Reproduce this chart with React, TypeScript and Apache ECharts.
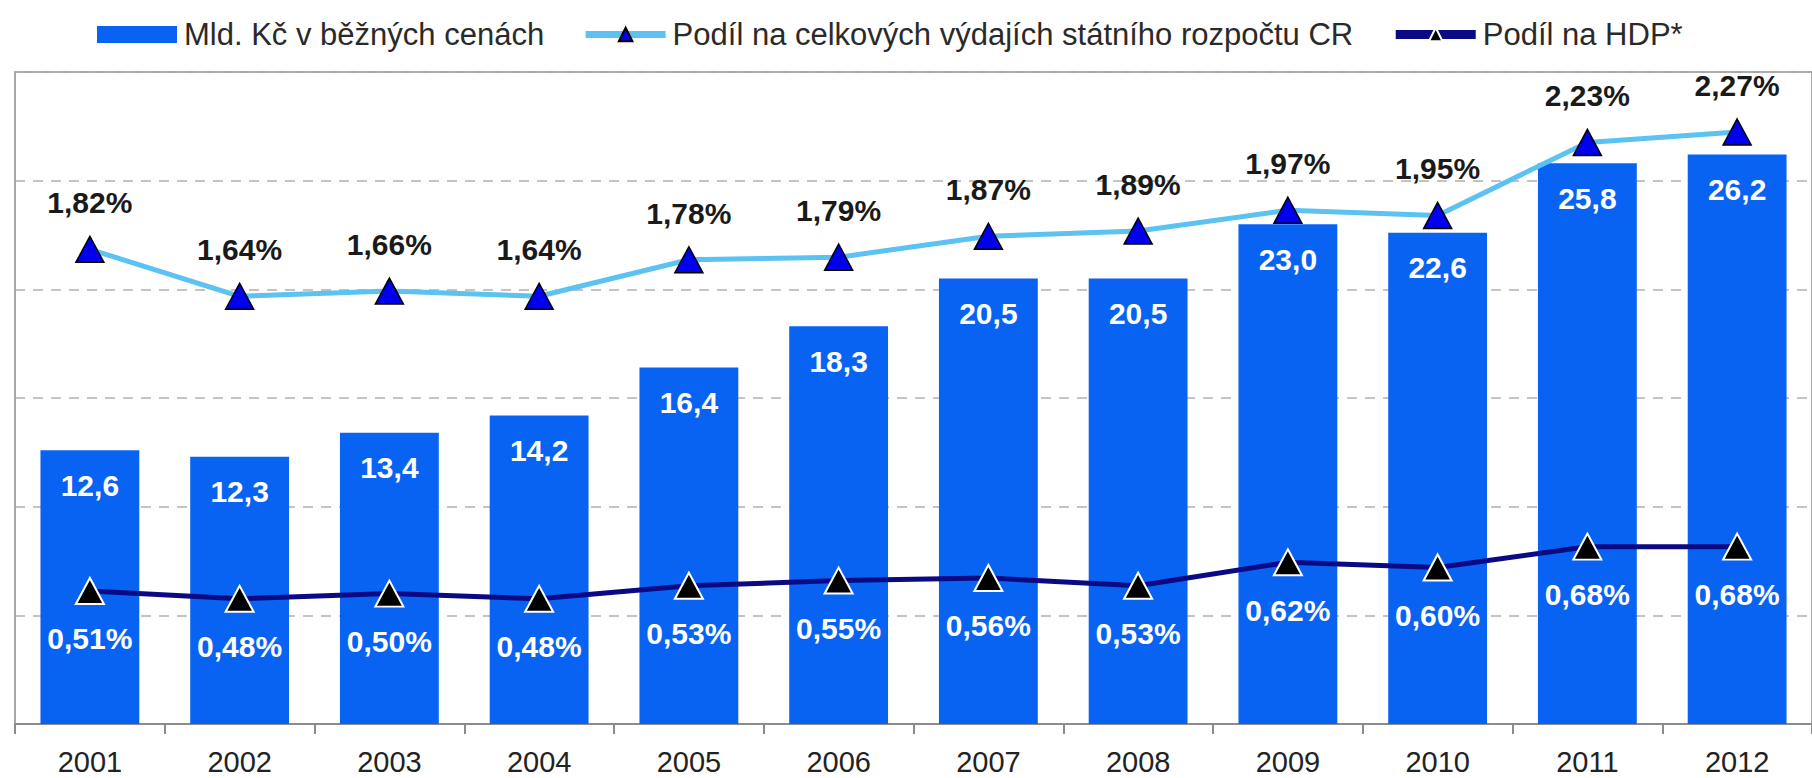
import React, { useEffect, useRef } from "react";
import * as echarts from "echarts";

const years = ["2001", "2002", "2003", "2004", "2005", "2006", "2007", "2008", "2009", "2010", "2011", "2012"];
const billionsCZK = [12.6, 12.3, 13.4, 14.2, 16.4, 18.3, 20.5, 20.5, 23.0, 22.6, 25.8, 26.2];
const shareBudget = [1.82, 1.64, 1.66, 1.64, 1.78, 1.79, 1.87, 1.89, 1.97, 1.95, 2.23, 2.27];
const shareGDP = [0.51, 0.48, 0.5, 0.48, 0.53, 0.55, 0.56, 0.53, 0.62, 0.6, 0.68, 0.68];

const seriesNames = [
  "Mld. Kč v běžných cenách",
  "Podíl na celkových výdajích státního rozpočtu CR",
  "Podíl na HDP*",
];

const FONT = "'Liberation Sans', Arial, sans-serif";

export default function App() {
  const ref = useRef<HTMLDivElement>(null);
  useEffect(() => {
    if (!ref.current) return;
    const chart = echarts.init(ref.current, null, { renderer: "svg" });
    const fmt1 = (v: number) => v.toFixed(1).replace(".", ",");
    const fmtPct = (v: number) => v.toFixed(2).replace(".", ",") + "%";
    chart.setOption({
      animation: false,
      backgroundColor: "#ffffff",
      textStyle: { fontFamily: FONT },
      legend: {
        left: 92,
        top: 14,
        itemWidth: 80,
        itemHeight: 17,
        itemGap: 38,
        textStyle: { fontSize: 31, color: "#2a2a2a", fontFamily: FONT, padding: [0, 0, 0, 2] },
        data: [
          { name: seriesNames[0], icon: "rect" },
          { name: seriesNames[1], lineStyle: { width: 7 } },
          { name: seriesNames[2], lineStyle: { width: 9 } },
        ],
      },
      grid: {
        left: 15,
        top: 72,
        bottom: 54,
        width: 1811,
        show: true,
        borderColor: "#a8a8a8",
        borderWidth: 2,
      },
      xAxis: {
        type: "category",
        data: years,
        axisLine: { show: true, lineStyle: { color: "#8c8c8c", width: 2 } },
        axisTick: { show: true, length: 10, lineStyle: { color: "#8c8c8c", width: 2 } },
        axisLabel: { fontSize: 29, color: "#222", margin: 23, fontFamily: FONT },
      },
      yAxis: [
        {
          type: "value",
          min: 0,
          max: 30,
          interval: 5,
          axisLabel: { show: false },
          axisLine: { show: true, lineStyle: { color: "#a8a8a8", width: 2 } },
          axisTick: { show: false },
          splitLine: { show: true, lineStyle: { color: "#b0b0b0", type: [10, 8], width: 1.5 } },
        },
        {
          type: "value",
          min: 0,
          max: 2.5,
          interval: 0.5,
          show: false,
          splitLine: { show: false },
        },
      ],
      series: [
        {
          name: seriesNames[0],
          type: "bar",
          data: billionsCZK,
          barCategoryGap: "34%",
          itemStyle: { color: "#0863F3" },
          label: {
            show: true,
            position: "insideTop",
            distance: 20,
            color: "#ffffff",
            fontWeight: "bold",
            fontSize: 30,
            fontFamily: FONT,
            formatter: (p: any) => fmt1(p.value),
          },
          z: 2,
        },
        {
          name: seriesNames[1],
          type: "line",
          yAxisIndex: 1,
          data: shareBudget,
          symbol: "triangle",
          symbolSize: [28, 26],
          lineStyle: { color: "#5BC2F2", width: 5 },
          itemStyle: { color: "#0000EE", borderColor: "#000000", borderWidth: 1.5 },
          label: {
            show: true,
            position: "top",
            distance: 18,
            color: "#1a1a1a",
            fontWeight: "bold",
            fontSize: 30,
            fontFamily: FONT,
            formatter: (p: any) => fmtPct(p.value),
          },
          z: 4,
        },
        {
          name: seriesNames[2],
          type: "line",
          yAxisIndex: 1,
          data: shareGDP,
          symbol: "triangle",
          symbolSize: [28, 26],
          lineStyle: { color: "#0A0A85", width: 5 },
          itemStyle: { color: "#000000", borderColor: "#ffffff", borderWidth: 2 },
          label: {
            show: true,
            position: "bottom",
            distance: 19,
            color: "#ffffff",
            fontWeight: "bold",
            fontSize: 30,
            fontFamily: FONT,
            formatter: (p: any) => fmtPct(p.value),
          },
          z: 4,
        },
      ],
    });
    return () => chart.dispose();
  }, []);
  return (
    <div
      ref={ref}
      style={{ position: "fixed", left: 0, top: 0, width: 1812, height: 778 }}
    />
  );
}
